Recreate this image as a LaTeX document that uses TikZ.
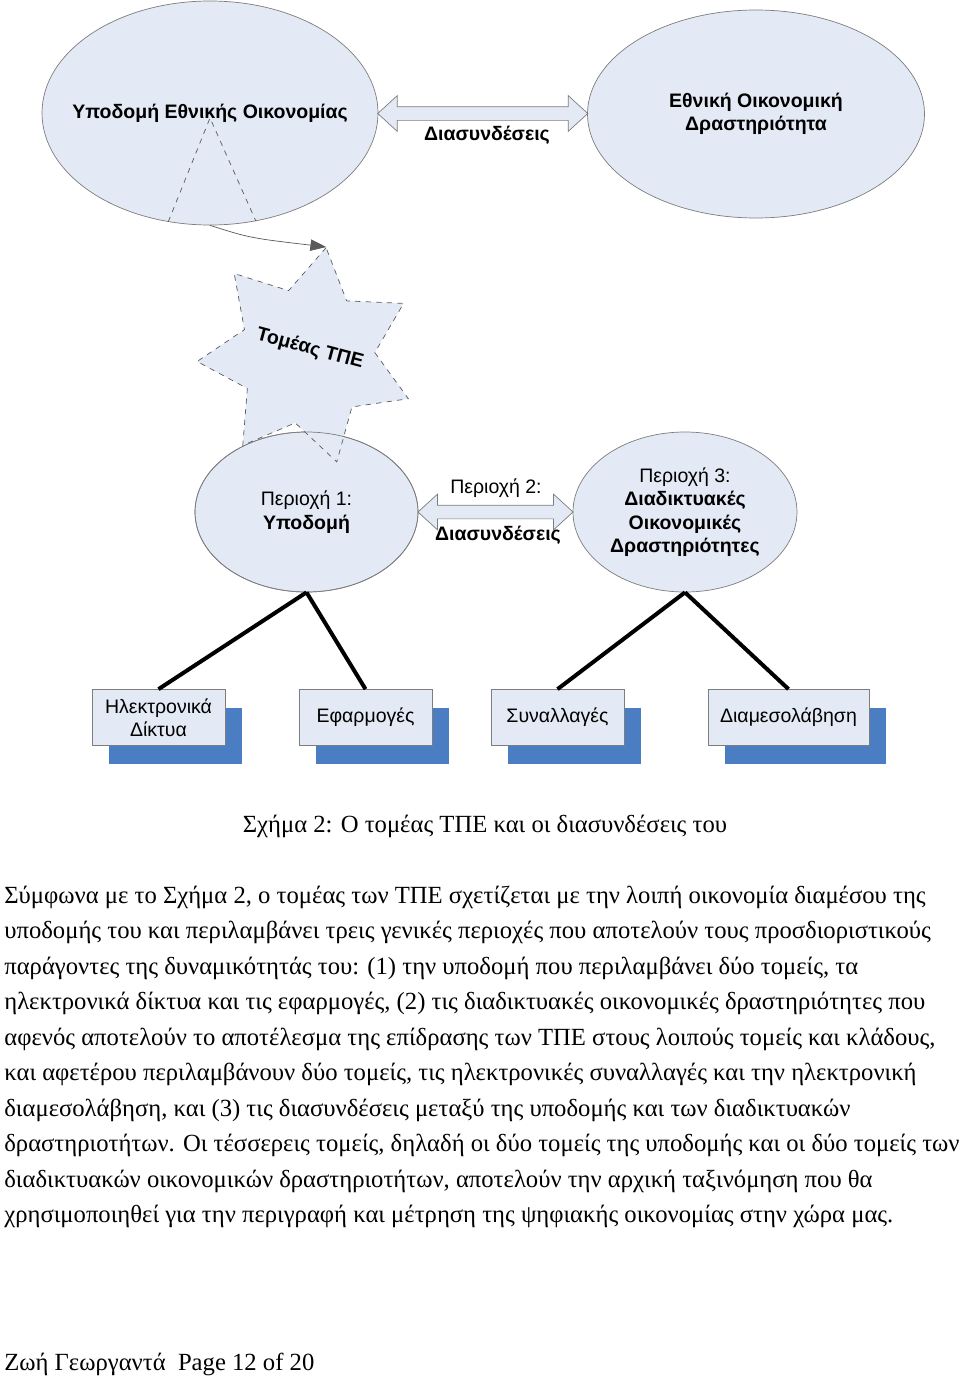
\documentclass[tikz,border=0pt]{standalone}
\usepackage{fontspec}
\setmainfont{Liberation Serif}
\setsansfont{Liberation Sans}
\usetikzlibrary{shapes.geometric,shapes.arrows,shadows,arrows.meta,positioning,calc}
\newlength\px
\setlength\px{0.02cm}
\definecolor{shapefill}{RGB}{228,234,245}
\definecolor{edgegray}{RGB}{125,125,125}
\definecolor{dashgray}{RGB}{90,90,90}
\definecolor{shadowblue}{RGB}{74,125,193}
\newcommand{\diagfont}{\sffamily\fontsize{11.1}{13.3}\selectfont}
\begin{document}
\begin{tikzpicture}[
			x=0.02cm, y=-0.02cm,
			oval/.style={ellipse, draw=edgegray, fill=shapefill, inner sep=0pt, align=center, font=\diagfont},
			burst/.style={star, star points=7, star point ratio=1.62, shape border rotate=-10, draw=dashgray, dashed, fill=shapefill, inner sep=0pt},
			link/.style={double arrow, double arrow tip angle=85, double arrow head extend=11\px, minimum width=35\px, inner sep=6.5\px, draw=edgegray, fill=shapefill},
			itembox/.style={rectangle, draw=edgegray, fill=shapefill, minimum height=56\px, inner sep=0pt, align=center, font=\diagfont,
					drop shadow={shadow xshift=17\px, shadow yshift=-18\px, fill=shadowblue, opacity=1}},
			branch/.style={line width=4\px},
			dashline/.style={draw=dashgray, dashed},
			pointer/.style={draw=dashgray, -{Triangle[length=9pt,width=6.5pt]}},
			bodytext/.style={anchor=base west, inner sep=0pt, font=\fontsize{14.04}{16}\selectfont}
		]
		\fill[white] (0,0) rectangle (960,1379);
		\useasboundingbox (0,0) rectangle (960,1379);

		\node[oval, inner xsep=-25\px, minimum width=336\px, minimum height=224\px, font=\diagfont\bfseries] (infra) at (210,113) {Υποδομή Εθνικής Οικονομίας};
		\node[oval, minimum width=337\px, minimum height=208\px, font=\diagfont\bfseries] (econ) at (756,114) {Εθνική Οικονομική\\Δραστηριότητα};
		\node[link, minimum height=210\px] (link1) at ($(infra.east)!0.5!(econ.west)$) {};
		\node[font=\diagfont\bfseries] (link1txt) at (487,135) {Διασυνδέσεις};

		\coordinate (apex) at ([yshift=-5\px]infra.center);
		\draw[dashline] (infra.249) -- (apex) -- (infra.293);

		\node[oval, minimum width=223\px, minimum height=160\px] (reg1) at (306.5,512) {Περιοχή 1:\\\textbf{Υποδομή}};
		\node[oval, minimum width=224\px, minimum height=160\px] (reg3) at (685,512) {Περιοχή 3:\\\textbf{Διαδικτυακές}\\\textbf{Οικονομικές}\\\textbf{Δραστηριότητες}};
		\node[burst, minimum size=220\px] (ict) at (307,356) {};
		\node[rotate=-15, font=\diagfont\bfseries] (ictlabel) at ([xshift=3\px, yshift=7\px]ict.center) {Τομέας ΤΠΕ};
		\draw[edgegray] (reg1.center) ellipse [x radius=111.5, y radius=80];
		\draw[pointer] (infra.south) .. controls (250,238) .. (ict.outer point 1);

		\node[link, minimum height=155\px] (link2) at ($(reg1.east)!0.5!(reg3.west)$) {};
		\node[font=\diagfont] (link2top) at (496,488) {Περιοχή 2:};
		\node[font=\diagfont\bfseries] (link2txt) at (498,535) {Διασυνδέσεις};

		\node[itembox, minimum width=133\px] (nets) at (158.5,717.5) {Ηλεκτρονικά\\Δίκτυα};
		\node[itembox, minimum width=133\px] (apps) at (365.5,717.5) {Εφαρμογές};
		\node[itembox, minimum width=133\px] (trans) at (557.5,717.5) {Συναλλαγές};
		\node[itembox, minimum width=161\px] (inter) at (788.5,717.5) {Διαμεσολάβηση};

		\draw[branch] (reg1.south) -- (nets.north);
		\draw[branch] (reg1.south) -- (apps.north);
		\draw[branch] (reg3.south) -- (trans.north);
		\draw[branch] (reg3.south) -- (inter.north);

		\node[bodytext, anchor=base] (caption) at (485,832) {Σχήμα 2: Ο τομέας ΤΠΕ και οι διασυνδέσεις του};
		\node[bodytext] (line1) at (4,903) {Σύμφωνα με το Σχήμα 2, ο τομέας των ΤΠΕ σχετίζεται με την λοιπή οικονομία διαμέσου της};
		\node[bodytext] (line2) at (4,938.5) {υποδομής του και περιλαμβάνει τρεις γενικές περιοχές που αποτελούν τους προσδιοριστικούς};
		\node[bodytext] (line3) at (4,974) {παράγοντες της δυναμικότητάς του: (1) την υποδομή που περιλαμβάνει δύο τομείς, τα};
		\node[bodytext] (line4) at (4,1009.5) {ηλεκτρονικά δίκτυα και τις εφαρμογές, (2) τις διαδικτυακές οικονομικές δραστηριότητες που};
		\node[bodytext] (line5) at (4,1045) {αφενός αποτελούν το αποτέλεσμα της επίδρασης των ΤΠΕ στους λοιπούς τομείς και κλάδους,};
		\node[bodytext] (line6) at (4,1080.5) {και αφετέρου περιλαμβάνουν δύο τομείς, τις ηλεκτρονικές συναλλαγές και την ηλεκτρονική};
		\node[bodytext] (line7) at (4,1116) {διαμεσολάβηση, και (3) τις διασυνδέσεις μεταξύ της υποδομής και των διαδικτυακών};
		\node[bodytext] (line8) at (4,1151.5) {δραστηριοτήτων. Οι τέσσερεις τομείς, δηλαδή οι δύο τομείς της υποδομής και οι δύο τομείς των};
		\node[bodytext] (line9) at (4,1187) {διαδικτυακών οικονομικών δραστηριοτήτων, αποτελούν την αρχική ταξινόμηση που θα};
		\node[bodytext] (line10) at (4,1222.5) {χρησιμοποιηθεί για την περιγραφή και μέτρηση της ψηφιακής οικονομίας στην χώρα μας.};
		\node[bodytext] (footer) at (4,1370) {Ζωή Γεωργαντά\ \ Page 12 of 20};
	\end{tikzpicture}
\end{document}
